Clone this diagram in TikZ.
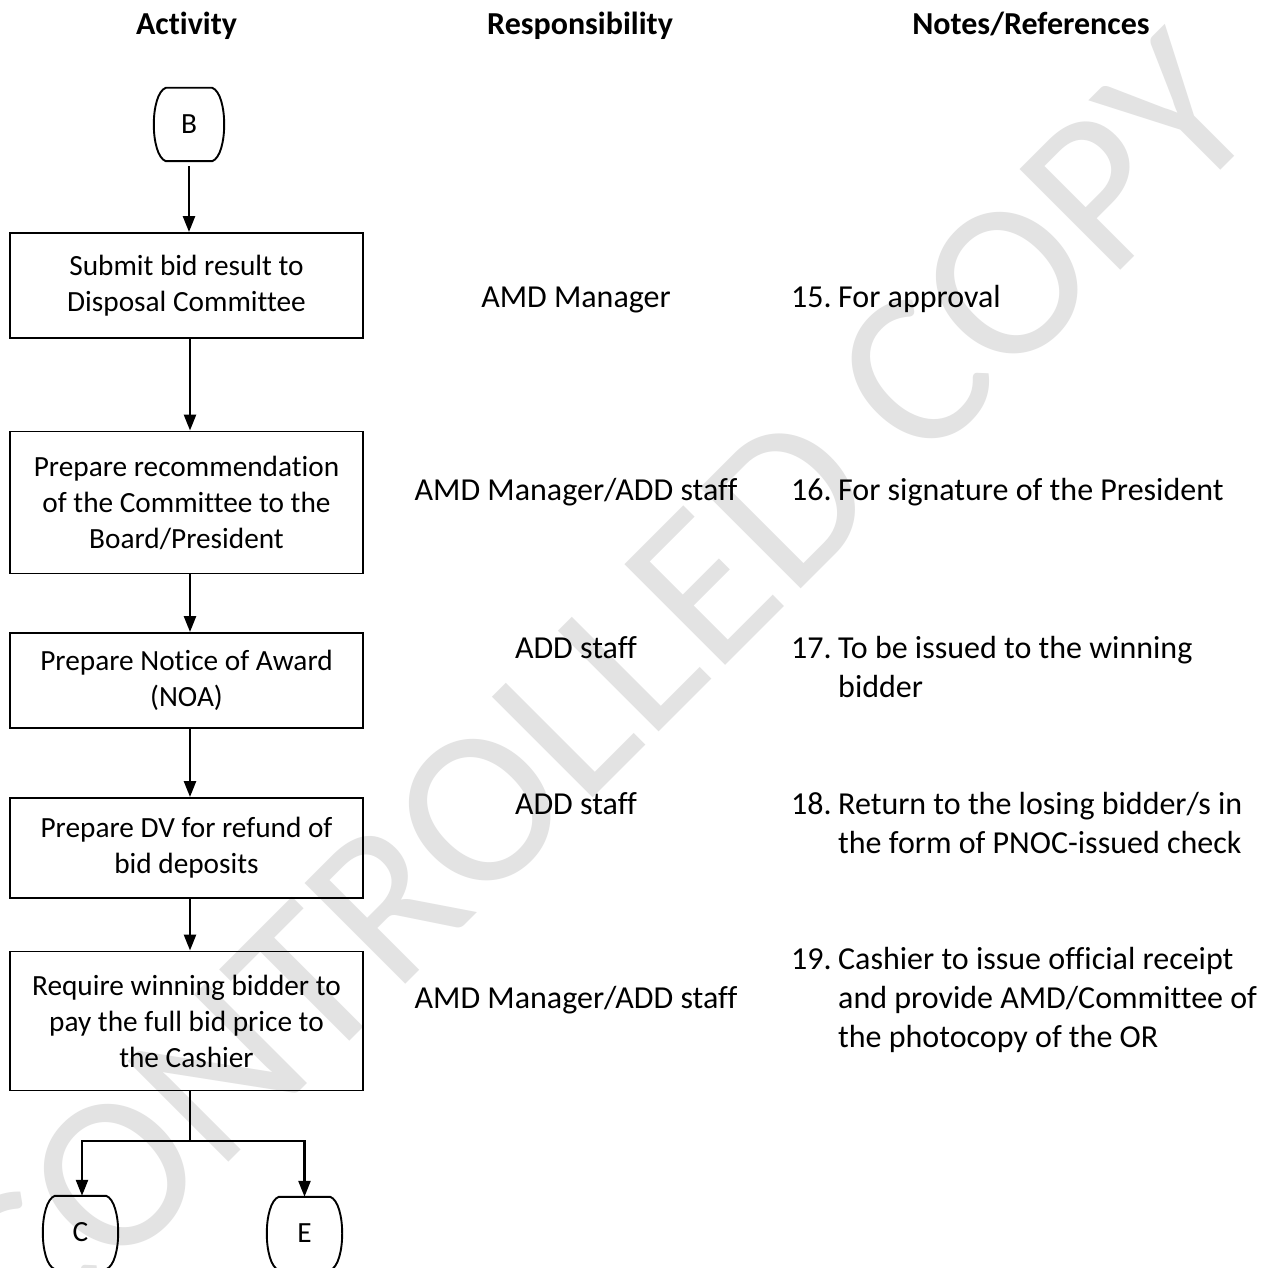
\documentclass[tikz,border=0pt]{standalone}
\usepackage{fontspec}
\setmainfont{Carlito}[Ligatures=CommonOff]
\usetikzlibrary{arrows.meta,calc}

\newcommand\boxfont{\fontsize{29.3}{36}\selectfont}
\newcommand\colfont{\fontsize{32}{39}\selectfont}
\newcommand\headfont{\fontsize{32}{39}\selectfont\bfseries}
\newcommand\wmfont{\fontsize{222}{222}\selectfont}

\tikzset{
  stepbox/.style={draw, line width=1.9pt, minimum width=353pt, align=center,
                  inner sep=0pt, font=\boxfont},
  term/.style={minimum height=73pt, inner sep=0pt, font=\boxfont},
  termline/.style={line width=1.9pt},
  flow/.style={line width=2.5pt, -{Triangle[length=16pt,width=12pt]}},
  link/.style={line width=2.5pt},
  colhead/.style={font=\headfont, anchor=base},
  resp/.style={font=\colfont, anchor=base},
  note/.style={font=\colfont, anchor=base west, inner sep=0pt},
  wmark/.style={font=\wmfont, text=black!11, inner sep=0pt}
}

% barrel-shaped off-page connector drawn round a named node
\newcommand\termoutline[1]{%
  \draw[termline] ([xshift=12pt]#1.north west) -- ([xshift=-12pt]#1.north east)
    .. controls ([xshift=4pt,yshift=-6pt]#1.north east) and ([xshift=4pt,yshift=6pt]#1.south east)
    .. ([xshift=-12pt]#1.south east) -- ([xshift=12pt]#1.south west)
    .. controls ([xshift=-4pt,yshift=6pt]#1.south west) and ([xshift=-4pt,yshift=-6pt]#1.north west)
    .. ([xshift=12pt]#1.north west) -- cycle;}

\newcommand\noteitem[2]{\begin{tabular}[t]{@{}p{47pt}@{}l@{}}#1 & #2\end{tabular}}

\begin{document}
\begin{tikzpicture}[x=1pt,y=-1pt]
  \useasboundingbox (0,0) rectangle (1274,1268);
  \fill[white] (0,0) rectangle (1274,1268);

  % watermark
  \node[wmark, rotate=45] (wm) at (598,692) {CONTROLLED COPY};

  % column headings
  \node[colhead] (hAct)  at (186.5,35) {Activity};
  \node[colhead] (hResp) at (580,35)   {Responsibility};
  \node[colhead] (hNote) at (1031,35)  {Notes/References};

  % spine of the flow
  \coordinate (spine) at (190,0);
  \coordinate (fork)  at (190,1141);

  % connectors in and out
  \node[term, minimum width=70pt] (B) at (189,124.5) {B};
  \node[term, minimum width=75pt] (C) at (80.5,1232.5) {C};
  \node[term, minimum width=75pt] (E) at (304.5,1233.5) {E};
  \termoutline{B}
  \termoutline{C}
  \termoutline{E}

  % activity boxes
  \node[stepbox, minimum height=105pt] (s1) at (186.5,285.5)
    {Submit bid result to\\Disposal Committee};
  \node[stepbox, minimum height=142pt] (s2) at (186.5,502.5)
    {Prepare recommendation\\of the Committee to the\\Board/President};
  \node[stepbox, minimum height=95pt] (s3) at (186.5,680.5)
    {Prepare Notice of Award\\(NOA)};
  \node[stepbox, minimum height=100pt] (s4) at (186.5,848)
    {Prepare DV for refund of\\bid deposits};
  \node[stepbox, minimum height=139pt] (s5) at (186.5,1021)
    {Require winning bidder to\\pay the full bid price to\\the Cashier};

  % flow arrows
  \draw[flow, shorten <=5pt] (B.south) -- (s1.north -| B.south);
  \draw[flow] (s1.south -| spine) -- (s2.north -| spine);
  \draw[flow] (s2.south -| spine) -- (s3.north -| spine);
  \draw[flow] (s3.south -| spine) -- (s4.north -| spine);
  \draw[flow] (s4.south -| spine) -- (s5.north -| spine);
  \draw[link] (s5.south -| spine) -- (fork);
  \draw[flow] (fork) -| ([xshift=1.5pt]C.north);
  \draw[flow] (fork) -| (E.north);

  % responsibility column
  \node[resp] (r1) at (576,307)  {AMD Manager};
  \node[resp] (r2) at (576,500)  {AMD Manager/ADD staff};
  \node[resp] (r3) at (576,658)  {ADD staff};
  \node[resp] (r4) at (576,814)  {ADD staff};
  \node[resp] (r5) at (576,1008) {AMD Manager/ADD staff};

  % notes column
  \node[note] (n15) at (791,307) {\noteitem{15.}{For approval}};
  \node[note] (n16) at (791,500) {\noteitem{16.}{For signature of the President}};
  \node[note] (n17) at (791,658) {\noteitem{17.}{To be issued to the winning\\ & bidder}};
  \node[note] (n18) at (791,814) {\noteitem{18.}{Return to the losing bidder/s in\\ & the form of PNOC-issued check}};
  \node[note] (n19) at (791,969) {\noteitem{19.}{Cashier to issue official receipt\\ & and provide AMD/Committee of\\ & the photocopy of the OR}};
\end{tikzpicture}
\end{document}
